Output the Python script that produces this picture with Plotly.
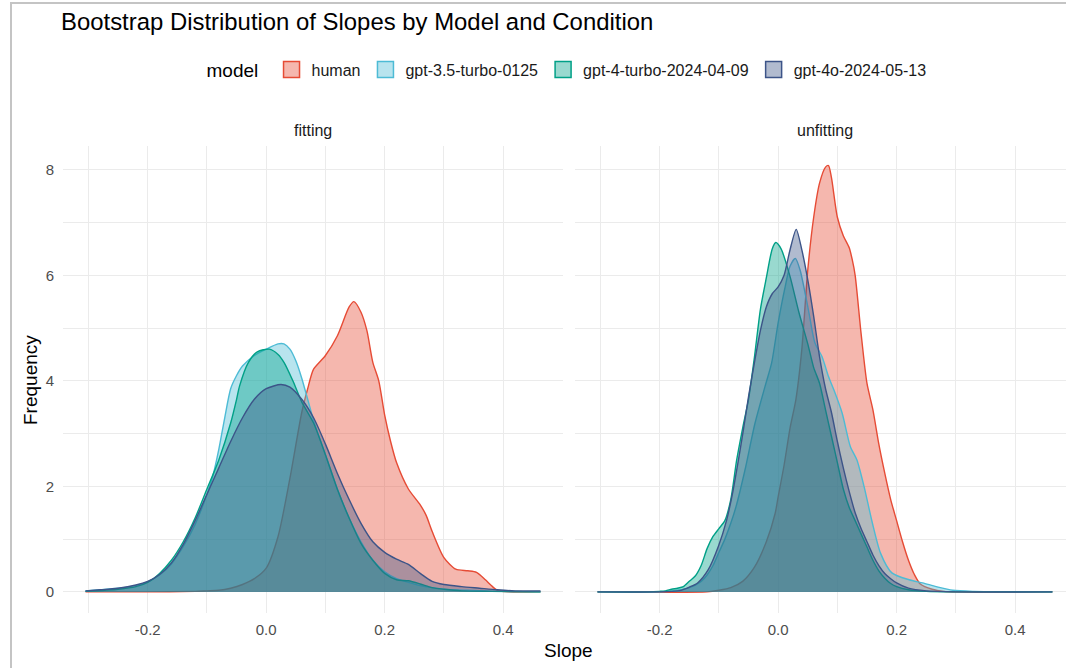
import plotly.graph_objects as go

W, H = 1066, 668

models = ["human", "gpt-3.5-turbo-0125", "gpt-4-turbo-2024-04-09", "gpt-4o-2024-05-13"]
colors = ["#E64B35", "#4DBBD5", "#00A087", "#3C5488"]
fills = ["rgba(230,75,53,0.4)", "rgba(77,187,213,0.4)", "rgba(0,160,135,0.4)", "rgba(60,84,136,0.4)"]
conditions = ["fitting", "unfitting"]

# ---------------- fitting ----------------
human_fit_x = [-0.305, -0.2, -0.12, -0.1, -0.08, -0.06, -0.04, -0.02, 0.0, 0.02, 0.04, 0.06, 0.07, 0.08, 0.1, 0.12,
               0.14, 0.148, 0.16, 0.17, 0.18, 0.19, 0.2, 0.21, 0.22, 0.24, 0.26, 0.27, 0.28, 0.3, 0.32, 0.34,
               0.355, 0.37, 0.38, 0.39, 0.41, 0.463]
human_fit_y = [0, 0, 0.01, 0.02, 0.03, 0.07, 0.14, 0.25, 0.45, 1.05, 2.15, 3.4, 3.85, 4.22, 4.48, 4.85,
               5.4, 5.5, 5.3, 4.95, 4.35, 4.0, 3.35, 2.85, 2.45, 1.95, 1.65, 1.45, 1.15, 0.65, 0.43, 0.4,
               0.37, 0.23, 0.12, 0.03, 0.0, 0.0]

gpt35_fit_x = [-0.305, -0.28, -0.25, -0.22, -0.2, -0.18, -0.16, -0.14, -0.12, -0.1, -0.09, -0.08, -0.07, -0.06,
               -0.05, -0.04, -0.02, 0.0, 0.02, 0.03, 0.04, 0.05, 0.06, 0.07, 0.08, 0.1, 0.12, 0.14, 0.16, 0.18,
               0.2, 0.22, 0.24, 0.26, 0.28, 0.3, 0.34, 0.4, 0.463]
gpt35_fit_y = [0.02, 0.04, 0.07, 0.12, 0.19, 0.32, 0.53, 0.86, 1.28, 1.85, 2.2, 2.7, 3.3, 3.85,
               4.1, 4.28, 4.48, 4.6, 4.7, 4.7, 4.6, 4.38, 4.05, 3.65, 3.25, 2.6, 1.95, 1.4, 0.95, 0.6,
               0.38, 0.25, 0.18, 0.12, 0.08, 0.05, 0.03, 0.01, 0.0]

gpt4t_fit_x = [-0.305, -0.25, -0.22, -0.2, -0.18, -0.16, -0.14, -0.12, -0.1, -0.08, -0.06, -0.05, -0.045, -0.03,
               -0.015, 0.005, 0.02, 0.03, 0.045, 0.06, 0.08, 0.1, 0.12, 0.14, 0.16, 0.18, 0.2, 0.22, 0.24,
               0.26, 0.28, 0.3, 0.33, 0.38, 0.463]
gpt4t_fit_y = [0.01, 0.05, 0.1, 0.18, 0.35, 0.6, 0.95, 1.4, 1.95, 2.5, 3.2, 3.65, 3.9, 4.35,
               4.55, 4.6, 4.5, 4.35, 4.0, 3.6, 3.2, 2.6, 1.95, 1.4, 0.92, 0.6, 0.35, 0.23, 0.21,
               0.15, 0.08, 0.05, 0.02, 0.01, 0.0]

gpt4o_fit_x = [-0.305, -0.28, -0.25, -0.22, -0.2, -0.18, -0.16, -0.14, -0.12, -0.1, -0.08, -0.06, -0.04, -0.02,
               0.0, 0.025, 0.04, 0.06, 0.08, 0.1, 0.12, 0.14, 0.16, 0.18, 0.2, 0.22, 0.24, 0.26, 0.28, 0.3,
               0.33, 0.36, 0.39, 0.42, 0.463]
gpt4o_fit_y = [0.02, 0.04, 0.07, 0.13, 0.2, 0.33, 0.55, 0.9, 1.35, 1.85, 2.35, 2.85, 3.3, 3.65,
               3.85, 3.93, 3.88, 3.65, 3.3, 2.8, 2.25, 1.75, 1.3, 0.95, 0.75, 0.62, 0.52, 0.35, 0.2, 0.14,
               0.1, 0.07, 0.04, 0.02, 0.02]

# ---------------- unfitting ----------------
human_unf_x = [-0.305, -0.12, -0.1, -0.08, -0.06, -0.04, -0.02, -0.005, 0.0, 0.01, 0.02, 0.03, 0.04, 0.05, 0.06,
               0.07, 0.08, 0.085, 0.09, 0.1, 0.11, 0.12, 0.125, 0.13, 0.14, 0.15, 0.16, 0.17, 0.18, 0.19,
               0.2, 0.21, 0.22, 0.23, 0.24, 0.26, 0.28, 0.3, 0.463]
human_unf_y = [0, 0, 0.03, 0.08, 0.2, 0.47, 0.95, 1.49, 1.8, 2.4, 3.1, 3.65, 4.6, 6.1, 7.1,
               7.75, 8.05, 8.08, 7.85, 7.1, 6.75, 6.52, 6.3, 6.0, 4.9, 3.95, 3.45, 2.8, 2.25, 1.75,
               1.35, 0.95, 0.6, 0.33, 0.15, 0.05, 0.01, 0.0, 0.0]

gpt35_unf_x = [-0.305, -0.2, -0.17, -0.15, -0.13, -0.12, -0.11, -0.1, -0.09, -0.08, -0.071, -0.056, -0.039,
               -0.022, -0.011, 0.0, 0.012, 0.02, 0.029, 0.037, 0.051, 0.062, 0.074, 0.085, 0.094, 0.108,
               0.122, 0.133, 0.145, 0.159, 0.173, 0.192, 0.221, 0.244, 0.267, 0.295, 0.33, 0.463]
gpt35_unf_y = [0, 0, 0.03, 0.08, 0.2, 0.32, 0.5, 0.75, 1.0, 1.3, 1.62, 2.31, 3.2,
               3.9, 4.34, 5.1, 5.79, 6.17, 6.32, 6.1, 5.35, 4.72, 4.46, 4.08, 3.83, 3.39,
               2.75, 2.5, 2.0, 1.31, 0.73, 0.36, 0.23, 0.17, 0.1, 0.03, 0.01, 0.0]

gpt4t_unf_x = [-0.305, -0.22, -0.2, -0.19, -0.18, -0.17, -0.16, -0.15, -0.14, -0.13, -0.12, -0.11, -0.1, -0.09,
               -0.08, -0.07, -0.06, -0.05, -0.04, -0.03, -0.02, -0.01, -0.004, 0.005, 0.02, 0.035, 0.05,
               0.06, 0.07, 0.08, 0.09, 0.1, 0.11, 0.12, 0.13, 0.14, 0.15, 0.16, 0.17, 0.18, 0.19, 0.2,
               0.22, 0.25, 0.3, 0.463]
gpt4t_unf_y = [0, 0, 0.01, 0.02, 0.05, 0.07, 0.1, 0.2, 0.3, 0.5, 0.82, 1.05, 1.2, 1.35,
               1.75, 2.5, 3.1, 3.65, 4.45, 5.35, 5.95, 6.5, 6.62, 6.5, 5.98, 5.3, 4.7,
               4.25, 3.95, 3.45, 2.95, 2.45, 1.95, 1.6, 1.35, 1.1, 0.85, 0.6, 0.4, 0.26, 0.16, 0.1,
               0.04, 0.01, 0.0, 0.0]

gpt4o_unf_x = [-0.305, -0.2, -0.18, -0.164, -0.15, -0.136, -0.118, -0.101, -0.087, -0.076, -0.068, -0.059,
               -0.05, -0.04, -0.03, -0.02, -0.01, 0.0, 0.01, 0.02, 0.0305, 0.04, 0.051, 0.06,
               0.07, 0.08, 0.09, 0.1, 0.11, 0.12, 0.13, 0.14, 0.15, 0.16, 0.17, 0.18, 0.19, 0.2, 0.22,
               0.25, 0.3, 0.463]
gpt4o_unf_y = [0, 0, 0.01, 0.03, 0.09, 0.17, 0.42, 0.86, 1.36, 1.93, 2.44, 3.05,
               3.7, 4.35, 4.95, 5.4, 5.65, 5.78, 6.0, 6.48, 6.87, 6.48, 5.85, 5.22,
               4.45, 3.85, 3.4, 2.85, 2.35, 1.9, 1.5, 1.2, 0.95, 0.7, 0.5, 0.35, 0.25, 0.17, 0.07,
               0.02, 0.0, 0.0]

series = {
    "fitting": [(human_fit_x, human_fit_y), (gpt35_fit_x, gpt35_fit_y),
                (gpt4t_fit_x, gpt4t_fit_y), (gpt4o_fit_x, gpt4o_fit_y)],
    "unfitting": [(human_unf_x, human_unf_y), (gpt35_unf_x, gpt35_unf_y),
                  (gpt4t_unf_x, gpt4t_unf_y), (gpt4o_unf_x, gpt4o_unf_y)],
}

x_ticks = [-0.2, 0.0, 0.2, 0.4]
x_tick_labels = ["-0.2", "0.0", "0.2", "0.4"]
y_ticks = [0, 2, 4, 6, 8]
y_tick_labels = ["0", "2", "4", "6", "8"]

FONT = "Liberation Sans, Arial, sans-serif"
GRID = "#ebebeb"
TICKC = "#4d4d4d"

fig = go.Figure()
for ci, cond in enumerate(conditions):
    xa = "x" if ci == 0 else "x2"
    ya = "y" if ci == 0 else "y2"
    for mi, m in enumerate(models):
        xs, ys = series[cond][mi]
        fig.add_trace(go.Scatter(
            x=xs, y=ys, mode="lines", name=m, legendgroup=m, showlegend=False,
            line=dict(color=colors[mi], width=1.4, shape="spline", smoothing=0.7),
            fill="tozeroy", fillcolor=fills[mi], xaxis=xa, yaxis=ya))

# legend keys (square swatches like the ggplot legend)
for mi, m in enumerate(models):
    fig.add_trace(go.Scatter(
        x=[None], y=[None], mode="markers", name=m, legendgroup=m, showlegend=True,
        marker=dict(symbol="square", size=16, color=fills[mi], line=dict(color=colors[mi], width=1.5)),
        xaxis="x", yaxis="y"))

def px_x(p):
    return p / W

def px_y(p):
    return 1 - p / H

ydom = [px_y(613), px_y(146)]
xcommon = dict(tickvals=x_ticks, ticktext=x_tick_labels, showgrid=True, gridcolor=GRID, gridwidth=1.1,
               zeroline=False, showline=False, ticks="", ticklabelstandoff=6,
               tickfont=dict(family=FONT, size=15, color=TICKC),
               minor=dict(tickvals=[-0.3, -0.1, 0.1, 0.3], showgrid=True, gridcolor=GRID, gridwidth=0.6))
ycommon = dict(range=[-0.4, 8.45], tickvals=y_ticks, ticktext=y_tick_labels, showgrid=True, gridcolor=GRID,
               gridwidth=1.1, zeroline=False, showline=False, ticks="", ticklabelstandoff=8,
               tickfont=dict(family=FONT, size=15, color=TICKC),
               minor=dict(tickvals=[1, 3, 5, 7], showgrid=True, gridcolor=GRID, gridwidth=0.6))

fig.update_layout(
    width=W, height=H,
    margin=dict(l=0, r=0, t=0, b=0),
    paper_bgcolor="white", plot_bgcolor="white",
    font=dict(family=FONT, color="black"),
    xaxis=dict(domain=[px_x(63), px_x(563)], range=[-0.343, 0.501], anchor="y", **xcommon),
    xaxis2=dict(domain=[px_x(575), 1.0], range=[-0.343, 0.486], anchor="y2", **xcommon),
    yaxis=dict(domain=ydom, anchor="x", **ycommon),
    yaxis2=dict(domain=ydom, anchor="x2", matches="y", showticklabels=False,
                **{k: v for k, v in ycommon.items() if k != "tickfont"}),
    title=dict(text="Bootstrap Distribution of Slopes by Model and Condition", x=px_x(61), xanchor="left",
               y=px_y(22), yanchor="middle", font=dict(family=FONT, size=23.9, color="black")),
    legend=dict(orientation="h", x=px_x(568), xanchor="center", y=px_y(70), yanchor="middle",
                title=dict(text="model ", font=dict(family=FONT, size=19, color="black"), side="left"),
                font=dict(family=FONT, size=16, color="#1a1a1a"), itemwidth=30, tracegroupgap=0,
                bgcolor="rgba(0,0,0,0)"),
    showlegend=True,
)

annotations = [
    dict(text="fitting", x=px_x(313), y=px_y(130), xref="paper", yref="paper", showarrow=False,
         font=dict(family=FONT, size=16, color="#1a1a1a"), xanchor="center", yanchor="middle"),
    dict(text="unfitting", x=px_x(825), y=px_y(130), xref="paper", yref="paper", showarrow=False,
         font=dict(family=FONT, size=16, color="#1a1a1a"), xanchor="center", yanchor="middle"),
    dict(text="Slope", x=px_x(568), y=px_y(650), xref="paper", yref="paper", showarrow=False,
         font=dict(family=FONT, size=19, color="black"), xanchor="center", yanchor="middle"),
    dict(text="Frequency", x=px_x(30), y=px_y(380), xref="paper", yref="paper", showarrow=False,
         textangle=-90, font=dict(family=FONT, size=19, color="black"), xanchor="center", yanchor="middle"),
]
fig.update_layout(annotations=annotations)

# screenshot frame (top and left border)
fig.add_shape(type="line", xref="paper", yref="paper", x0=px_x(10), x1=1.0, y0=px_y(3), y1=px_y(3),
              line=dict(color="#c4c4c4", width=2))
fig.add_shape(type="line", xref="paper", yref="paper", x0=px_x(11), x1=px_x(11), y0=px_y(3), y1=0,
              line=dict(color="#c4c4c4", width=2))

fig.write_html("out.html")
